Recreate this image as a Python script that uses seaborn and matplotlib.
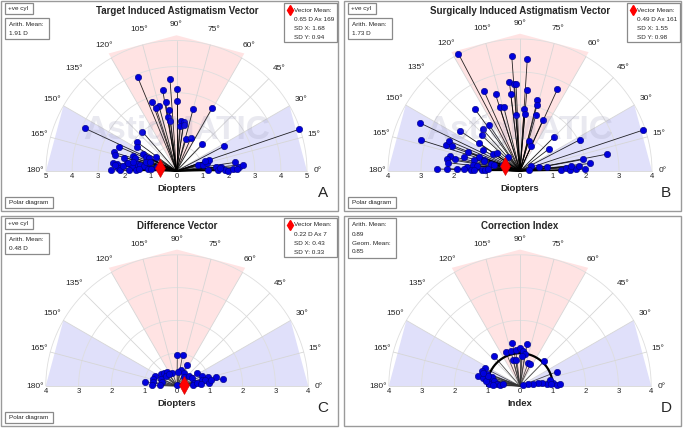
import numpy as np
import matplotlib.pyplot as plt
import seaborn as sns
from matplotlib.collections import LineCollection
from matplotlib.patches import Rectangle, Polygon

sns.set_style('white')
plt.rcParams['font.family'] = ['Liberation Sans', 'DejaVu Sans']

W, H = 685, 428

# ------------------------------------------------------------
# DATA  (x / y components in diopters)
# ------------------------------------------------------------
tiav_x = [-1.49, -0.25, -0.53, 0.00, -0.93, -0.42, 0.00, -0.67, -0.79, -0.29,
          -0.34, -0.23, 0.64, 1.37, 0.17, 0.28, 0.13, 0.27, -1.31, 0.36,
          0.55, 0.99, 1.82, 4.71, -3.52, -1.53, -1.53, -2.19, -2.39, -2.35,
          -2.01, -1.65, -1.60, -1.30, -1.17, -0.80, -1.06, -2.44, -2.29, -1.91,
          -2.26, -2.52, -2.16, -2.35, -2.06, -1.50, -1.40, -1.70, -1.25, -1.55,
          -1.42, -1.11, -0.99, -1.81, -0.74, -1.87, -1.65, -1.18, -1.02,
          0.81, 1.02, 1.15, 1.25, 1.11, 1.22, 1.53, 1.60, 1.72, 1.86,
          1.98, 2.16, 2.24, 2.39, 2.54, 2.32, 1.65]
tiav_y = [3.60, 3.52, 3.10, 3.13, 2.65, 2.66, 2.70, 2.49, 2.43, 2.34,
          2.06, 1.91, 2.38, 2.42, 1.90, 1.87, 1.74, 1.78, 1.51, 1.21,
          1.26, 1.03, 0.95, 1.60, 1.64, 1.12, 0.92, 0.92, 0.71, 0.61,
          0.51, 0.59, 0.50, 0.64, 0.53, 0.53, 0.51, 0.32, 0.28, 0.31,
          0.11, 0.05, 0.03, 0.22, 0.18, 0.28, 0.22, 0.18, 0.20, 0.05,
          0.08, 0.09, 0.06, 0.05, 0.15, 0.32, 0.36, 0.36, 0.36,
          0.23, 0.23, 0.31, 0.43, 0.38, 0.03, 0.15, 0.03, 0.15, 0.03,
          0.01, 0.08, 0.33, 0.15, 0.24, 0.09, 0.13]

siav_x = [-1.87, -0.25, 0.22, -0.32, -0.17, -0.12, -0.28, 0.21, 1.13, -1.09,
          -0.74, -0.61, -0.49, 0.13, 0.53, 0.51, -0.13, 0.15, 0.48, 0.69,
          -1.37, -0.93, -1.13, -1.16, -1.81, 0.26, 0.34, 0.88, 1.03, 1.82,
          3.73, 2.63, -3.04, -3.01, -2.25, -2.15, -2.05, -1.24, -0.81, -0.70,
          -1.59, -1.13, -1.24, -1.69, -1.97, -2.13, -2.21, -2.17, -1.39, -1.09,
          -1.42, -1.30, -1.62, -1.08, -0.88, -0.79, -0.53, -0.35, 0.33, 0.58,
          0.81, 1.24, 1.40, 1.52, 1.69, 1.55, 1.80, 1.92, 2.13, 1.97,
          -2.51, -2.21, -1.92, -1.69, -1.50, -1.39, -1.16, -1.05, -0.98, 0.28]
siav_y = [3.56, 3.49, 3.38, 2.69, 2.65, 2.63, 2.32, 2.45, 2.47, 2.42,
          2.32, 1.94, 1.93, 1.89, 2.16, 1.99, 1.69, 1.72, 1.69, 1.54,
          1.88, 1.39, 1.26, 1.08, 1.21, 0.91, 0.75, 0.67, 1.03, 0.95,
          1.24, 0.51, 1.46, 0.94, 0.79, 0.91, 0.77, 0.85, 0.53, 0.55,
          0.57, 0.64, 0.43, 0.43, 0.36, 0.45, 0.36, 0.25, 0.34, 0.34,
          0.19, 0.16, 0.12, 0.30, 0.22, 0.18, 0.17, 0.43, 0.14, 0.12,
          0.12, 0.02, 0.10, 0.02, 0.05, 0.15, 0.16, 0.35, 0.23, 0.06,
          0.06, 0.07, 0.07, 0.06, 0.04, 0.04, 0.04, 0.04, 0.07, 0.04]

dv_x = [0.01, 0.17, 0.31, 0.13, 0.04, 0.21, -0.68, -0.50, -0.40, -0.30,
        -0.14, -0.72, -0.73, -0.75, -0.97, -0.50, -0.45, -0.52, -0.35, -0.24,
        0.21, 0.37, 0.47, 0.52, 0.48, 0.62, 0.77, 0.95, 1.20, 1.41,
        0.75, 0.84, 0.99, 1.05, 0.62, 0.72, -0.01]
dv_y = [0.94, 0.94, 0.63, 0.49, 0.43, 0.41, 0.32, 0.38, 0.41, 0.43,
        0.41, 0.22, 0.12, 0.02, 0.12, 0.22, 0.12, 0.02, 0.30, 0.36,
        0.27, 0.30, 0.25, 0.10, 0.02, 0.39, 0.30, 0.28, 0.27, 0.22,
        0.18, 0.17, 0.08, 0.18, 0.08, 0.05, 0.02]

ci_x = [-0.23, 0.22, -0.43, -0.28, -0.13, 0.00, 0.08, 0.15, -0.22, -0.13,
        0.05, 0.25, 0.32, -0.79, -1.07, -1.17, -1.27, -1.14, -1.02, -0.96,
        -0.86, -0.79, -0.71, -0.96, -1.04, -0.83, -0.61, -0.51, -0.99, -1.12,
        0.73, 1.14, 1.02, 1.12, 1.22, 0.81, 0.66, 0.56, 0.41, 0.25,
        0.08, 0.91, 0.96]
ci_y = [1.32, 1.29, 1.03, 1.07, 1.09, 1.15, 1.07, 0.98, 0.80, 0.80,
        0.91, 0.71, 0.66, 0.91, 0.54, 0.46, 0.32, 0.25, 0.38, 0.20,
        0.27, 0.15, 0.05, 0.05, 0.15, 0.03, 0.03, 0.05, 0.30, 0.41,
        0.75, 0.44, 0.10, 0.03, 0.05, 0.05, 0.10, 0.10, 0.07, 0.05,
        0.03, 0.17, 0.05]

# vector means (magnitude D, axis deg) and summary text
mean_mag = [0.65, 0.49, 0.22]
mean_ax = [169, 161, 7]
sd_x = [1.68, 1.55, 0.43]
sd_y = [0.94, 0.98, 0.33]
arith_mean = ['1.91 D', '1.73 D', '0.48 D', '0.89']
geom_mean_ci = '0.85'

titles = ['Target Induced Astigmatism Vector', 'Surgically Induced Astigmatism Vector',
          'Difference Vector', 'Correction Index']
letters = ['A', 'B', 'C', 'D']
angle_ticks = list(range(0, 181, 15))

fig = plt.figure(figsize=(W / 100, H / 100), dpi=100)


def fx(px):
    return px / W


def fy(py):
    return 1 - py / H


def box(x0, y0, x1, y1, lw=0.9, ec='#8a8a8a'):
    fig.add_artist(Rectangle((fx(x0), fy(y1)), (x1 - x0) / W, (y1 - y0) / H,
                             transform=fig.transFigure, fill=False, ec=ec, lw=lw))


def label(px, py, s, **kw):
    kw.setdefault('fontsize', 4.6)
    kw.setdefault('va', 'center')
    kw.setdefault('ha', 'left')
    fig.text(fx(px), fy(py), s, **kw)


def draw_panel(i, ox, oy, cx, cy, s, rmax, xs, ys, xlabel, vec=True):
    # outer frame
    box(ox + 1, oy + 1, ox + 338, oy + 211, lw=1.0, ec='#9a9a9a')

    ax = fig.add_axes([fx(cx - s * rmax), fy(cy), 2 * s * rmax / W, s * rmax * 1.05 / H])
    ax.set_xlim(-rmax, rmax)
    ax.set_ylim(0, rmax * 1.05)
    for sp in ax.spines.values():
        sp.set_visible(False)
    ax.set_facecolor('none')

    # shaded sectors
    def sector(angles, r, color):
        th = np.radians(angles)
        pts = [(0, 0)] + [(r * np.cos(t), r * np.sin(t)) for t in th]
        ax.add_patch(Polygon(pts, closed=True, fc=color, ec='none', zorder=0, clip_on=False))
    sector([60, 90, 120], rmax * 1.04, (1.0, 0.89, 0.89))
    sector([150, 180], rmax * 1.0, (0.88, 0.88, 0.98))
    sector([0, 30], rmax * 1.0, (0.88, 0.88, 0.98))

    # polar grid
    t = np.linspace(0, np.pi, 200)
    for r in range(1, rmax + 1):
        ax.plot(r * np.cos(t), r * np.sin(t), color='#dedede', lw=0.6, zorder=1, clip_on=False)
    for a in angle_ticks:
        th = np.radians(a)
        ax.plot([0, rmax * np.cos(th)], [0, rmax * np.sin(th)], color='#d6d6d6', lw=0.6,
                zorder=1, clip_on=False)
        rl = rmax * (1.08 + 0.04 * np.sin(th))
        ax.text(rl * np.cos(th), rl * np.sin(th), f'{a}°', fontsize=6, ha='center',
                va='center', color='#222222', clip_on=False)

    # watermark
    ax.text(0, (cy - 131) / s, 'AstigMATIC', fontsize=24, fontweight='bold',
            color=(0.6, 0.6, 0.72), alpha=0.11, ha='center', va='center', zorder=2)

    # vectors
    segs = [[(0, 0), (x, y)] for x, y in zip(xs, ys)]
    lcol = 'black' if i < 2 else '#333333'
    ax.add_collection(LineCollection(segs, colors=lcol, linewidths=0.6, alpha=0.85,
                                     zorder=3, clip_on=False))
    if i == 3:
        ax.plot(np.cos(t), np.sin(t), color='black', lw=1.6, zorder=3.5, clip_on=False)
    sns.scatterplot(x=xs, y=ys, ax=ax, color='#0000dd', edgecolor='#00007a', linewidth=0.4,
                    s=21, zorder=4, clip_on=False, legend=False)
    if vec:
        th = np.radians(mean_ax[i])
        ax.plot([mean_mag[i] * np.cos(th)], [mean_mag[i] * np.sin(th)], marker='d', ms=9,
                color='red', mec='#cc0000', mew=0.4, zorder=5, clip_on=False)

    # axis ticks / label
    ticks = list(range(-rmax, rmax + 1))
    ax.set_xticks(ticks)
    ax.set_xticklabels([str(abs(v)) for v in ticks])
    ax.tick_params(axis='x', length=0, pad=1.5, labelsize=5.5, colors='#222222')
    ax.set_yticks([])
    ax.set_xlabel(xlabel, fontsize=6.8, fontweight='bold', labelpad=3)

    # titles / letter
    label(ox + 177, oy + 11, titles[i], fontsize=7, fontweight='bold', ha='center')
    label(ox + 323, oy + 193, letters[i], fontsize=11, ha='center')

    # info boxes
    if vec:
        box(ox + 5, oy + 3, ox + 33, oy + 14)
        label(ox + 8, oy + 8.5, '+ve cyl')
        box(ox + 5, oy + 18, ox + 49, oy + 39)
        label(ox + 9, oy + 25, 'Arith. Mean:')
        label(ox + 9, oy + 33.3, arith_mean[i])
        box(ox + 5, oy + 197, ox + 53, oy + 208)
        label(ox + 9, oy + 202.5, 'Polar diagram')
        box(ox + 284, oy + 3, ox + 337, oy + 42)
        fig.add_artist(plt.Line2D([fx(ox + 289.5)], [fy(oy + 10)], marker='d', ms=5,
                                  color='red', transform=fig.transFigure))
        label(ox + 294, oy + 10, 'Vector Mean:')
        label(ox + 294, oy + 19.3, f'{mean_mag[i]:.2f} D Ax {mean_ax[i]}')
        label(ox + 294, oy + 28.3, f'SD X: {sd_x[i]:.2f}')
        label(ox + 294, oy + 37.3, f'SD Y: {sd_y[i]:.2f}')
    else:
        box(ox + 5, oy + 3, ox + 53, oy + 43)
        label(ox + 9, oy + 10, 'Arith. Mean:')
        label(ox + 9, oy + 19, arith_mean[i])
        label(ox + 9, oy + 28, 'Geom. Mean:')
        label(ox + 9, oy + 37, geom_mean_ci)


draw_panel(0, 0, 0, 176.5, 171, 26.1, 5, tiav_x, tiav_y, 'Diopters')
draw_panel(1, 343, 0, 520, 171, 33.0, 4, siav_x, siav_y, 'Diopters')
draw_panel(2, 0, 215, 177, 386, 32.8, 4, dv_x, dv_y, 'Diopters')
draw_panel(3, 343, 215, 520, 386, 32.8, 4, ci_x, ci_y, 'Index', vec=False)

fig.savefig('out.png', dpi=100)
